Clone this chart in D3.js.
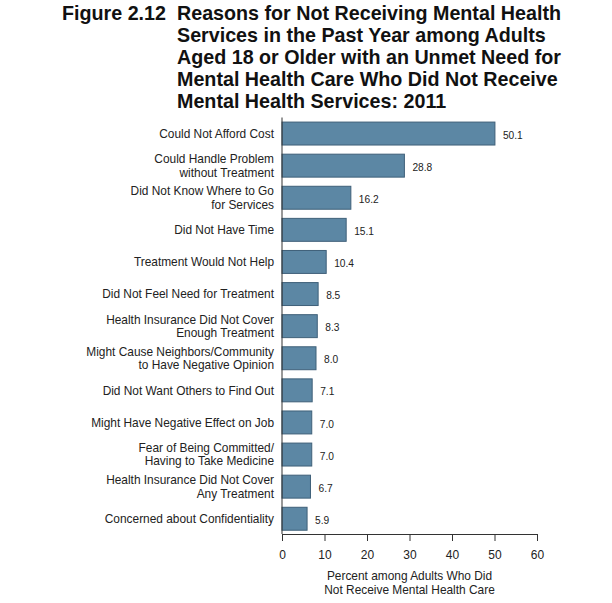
<!DOCTYPE html>
<html><head><meta charset="utf-8">
<script src="https://cdn.jsdelivr.net/npm/d3@7"></script>
<style>
html,body{margin:0;padding:0;background:#fff;}
text{font-family:Arial,"Liberation Sans",Helvetica,sans-serif;}
</style></head>
<body>
<svg id="chart" width="612" height="603"></svg>
<script>
const titleLines = ["Reasons for Not Receiving Mental Health","Services in the Past Year among Adults","Aged 18 or Older with an Unmet Need for","Mental Health Care Who Did Not Receive","Mental Health Services: 2011"];
const figureLabel = "Figure 2.12";
const categories = [
  "Could Not Afford Cost",
  "Could Handle Problem\nwithout Treatment",
  "Did Not Know Where to Go\nfor Services",
  "Did Not Have Time",
  "Treatment Would Not Help",
  "Did Not Feel Need for Treatment",
  "Health Insurance Did Not Cover\nEnough Treatment",
  "Might Cause Neighbors/Community\nto Have Negative Opinion",
  "Did Not Want Others to Find Out",
  "Might Have Negative Effect on Job",
  "Fear of Being Committed/\nHaving to Take Medicine",
  "Health Insurance Did Not Cover\nAny Treatment",
  "Concerned about Confidentiality"
];
const values = [50.1, 28.8, 16.2, 15.1, 10.4, 8.5, 8.3, 8.0, 7.1, 7.0, 7.0, 6.7, 5.9];
const valueLabels = ["50.1","28.8","16.2","15.1","10.4","8.5","8.3","8.0","7.1","7.0","7.0","6.7","5.9"];
const xTicks = [0, 10, 20, 30, 40, 50, 60];
const axisTitle = ["Percent among Adults Who Did","Not Receive Mental Health Care"];

const svg = d3.select("#chart");
const x0 = 282, x1 = 537, yTop = 117.5, yBot = 534;

// Title
const tg = svg.append("g").attr("fill","#111").style("font-weight","bold").style("font-size","19.7px");
tg.append("text").attr("x",62).attr("y",20).text(figureLabel);
titleLines.forEach((t,i)=>{
  tg.append("text").attr("x",177).attr("y",20 + i*22).text(t);
});

const x = d3.scaleLinear().domain([0,60]).range([x0,x1]);
const y = d3.scaleBand().domain(categories).range([yTop, yTop + 13*32.1]).paddingInner(0.285).paddingOuter(0.1425);

// bars
svg.append("g").selectAll("rect").data(values).join("rect")
  .attr("x", x(0))
  .attr("y", (d,i)=>y(categories[i]))
  .attr("width", d=>x(d)-x(0))
  .attr("height", y.bandwidth())
  .attr("fill","#5c87a4")
  .attr("stroke","#3f6079")
  .attr("stroke-width",1);

// value labels
svg.append("g").selectAll("text").data(values).join("text")
  .attr("x", d=>x(d)+8)
  .attr("y", (d,i)=>y(categories[i]) + y.bandwidth()/2 + 1.5)
  .attr("dy","0.35em")
  .style("font-size","10.2px")
  .attr("fill","#222")
  .text((d,i)=>valueLabels[i]);

// category labels
const cg = svg.append("g").attr("fill","#222").style("font-size","11.9px").attr("text-anchor","end");
categories.forEach((c,i)=>{
  const lines = c.split("\n");
  const cy = y(c) + y.bandwidth()/2;
  const lh = 13.5;
  lines.forEach((l,j)=>{
    cg.append("text").attr("x",274)
      .attr("y", cy + (j - (lines.length-1)/2)*lh)
      .attr("dy","0.35em").text(l);
  });
});

// vertical axis line
svg.append("line").attr("x1",x0).attr("x2",x0).attr("y1",yTop).attr("y2",yBot).attr("stroke","#333").attr("stroke-width",1);

// x axis
const ax = svg.append("g").attr("transform",`translate(0,${yBot})`)
  .call(d3.axisBottom(x).tickValues(xTicks).tickSize(7).tickSizeOuter(0).tickFormat(d3.format("d")));
ax.select(".domain").attr("stroke","#333");
ax.selectAll(".tick line").attr("stroke","#333");
ax.selectAll(".tick text").style("font-size","12px").attr("fill","#222").attr("font-family","Arial, 'Liberation Sans', sans-serif").attr("y",16);

// axis title
axisTitle.forEach((t,i)=>{
  svg.append("text").attr("x",(x0+x1)/2).attr("y",580 + i*13.5).attr("text-anchor","middle")
    .style("font-size","11.9px").attr("fill","#222").text(t);
});
</script>
</body></html>
